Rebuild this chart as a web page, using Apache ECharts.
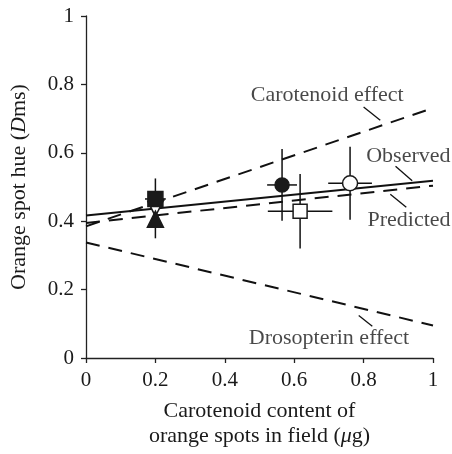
<!DOCTYPE html>
<html>
<head>
<meta charset="utf-8">
<script src="https://cdn.jsdelivr.net/npm/echarts@6/dist/echarts.min.js"></script>
<style>html,body{margin:0;padding:0;background:#fff}#c{width:452px;height:454px}</style>
</head>
<body>
<div id="c"></div>
<script>
// Axis ticks
const xTicks = [0, 0.2, 0.4, 0.6, 0.8, 1];
const yTicks = [0, 0.2, 0.4, 0.6, 0.8, 1];

// Regression / model lines (x at ends, y values)
const lineX = [0, 1];
const observed = [0.417, 0.518];
const predicted = [0.395, 0.504];
const carotenoidEffect = [0.385, 0.731];
const drosopterinEffect = [0.338, 0.095];

// Population points: carotenoid (x), hue (y), x error, y error
const pointNames = ['openTriangle', 'filledSquare', 'filledTriangle', 'filledCircle', 'openSquare', 'openCircle'];
const pointX = [0.2, 0.2, 0.2, 0.565, 0.617, 0.761];
const pointY = [0.436, 0.465, 0.406, 0.506, 0.429, 0.511];
const pointXErr = [0.0, 0.03, 0.0, 0.043, 0.093, 0.063];
const pointYErr = [0.05, 0.06, 0.056, 0.105, 0.109, 0.107];

// Annotations
const labelText = ['Carotenoid effect', 'Observed', 'Predicted', 'Drosopterin effect'];
const labelAt = [[0.695, 0.767], [0.929, 0.591], [0.931, 0.403], [0.700, 0.058]];
const leaderFrom = [[0.800, 0.734], [0.892, 0.561], [0.877, 0.479], [0.786, 0.124]];
const leaderTo = [[0.848, 0.695], [0.940, 0.518], [0.923, 0.441], [0.825, 0.093]];

const FONT = 'Liberation Serif';
const TXT = '#1a1a1a';
const chart = echarts.init(document.getElementById('c'), null, {renderer: 'canvas'});

const lineSeries = (vals, dashed) => ({
  type: 'line',
  data: lineX.map((x, i) => [x, vals[i]]),
  symbol: 'none',
  lineStyle: {color: '#111', width: 2, type: dashed ? [14, 9] : 'solid'},
  z: 3,
  silent: true
});

const markerStyles = {
  filledSquare: {symbol: 'rect', size: 15, color: '#1a1a1a', rotate: 0},
  openTriangle: {symbol: 'triangle', size: 15, color: '#fff', rotate: 180},
  filledTriangle: {symbol: 'triangle', size: 16, color: '#1a1a1a', rotate: 0},
  filledCircle: {symbol: 'circle', size: 14, color: '#1a1a1a', rotate: 0},
  openSquare: {symbol: 'rect', size: 14, color: '#fff', rotate: 0},
  openCircle: {symbol: 'circle', size: 15, color: '#fff', rotate: 0}
};

const markerSeries = pointNames.map((n, i) => {
  const s = markerStyles[n];
  return {
    type: 'scatter',
    data: [[pointX[i], pointY[i]]],
    symbol: s.symbol,
    symbolSize: s.size,
    symbolRotate: s.rotate,
    itemStyle: {color: s.color, borderColor: '#1a1a1a', borderWidth: 1.5, opacity: 1},
    z: 10 + i,
    silent: true
  };
});

const option = {
  animation: false,
  backgroundColor: '#fff',
  grid: {left: 85, right: 19, top: 16, bottom: 91, containLabel: false},
  xAxis: {
    type: 'value', min: 0, max: 1, interval: 0.2,
    axisLine: {show: true, onZero: false, lineStyle: {color: '#222', width: 1.3}},
    axisTick: {show: true, inside: false, length: 5, lineStyle: {color: '#222', width: 1.3}},
    splitLine: {show: false},
    axisLabel: {color: TXT, fontFamily: FONT, fontSize: 21, margin: 12,
      formatter: v => String(+v.toFixed(1))},
    name: '{n|Carotenoid content of}\n{n|orange spots in field (}{i|μ}{n|g)}',
    nameLocation: 'middle', nameGap: 41,
    nameTextStyle: {color: TXT, fontFamily: FONT, fontSize: 22, lineHeight: 25,
      rich: {n: {fontFamily: FONT, fontSize: 22, color: TXT},
             i: {fontFamily: FONT, fontSize: 22, fontStyle: 'italic', color: TXT}}}
  },
  yAxis: {
    type: 'value', min: 0, max: 1, interval: 0.2,
    axisLine: {show: true, onZero: false, lineStyle: {color: '#222', width: 1.3}},
    axisTick: {show: true, inside: false, length: 5, lineStyle: {color: '#222', width: 1.3}},
    splitLine: {show: false},
    axisLabel: {color: TXT, fontFamily: FONT, fontSize: 21, margin: 12,
      formatter: v => String(+v.toFixed(1))},
    name: '{n|Orange spot hue (}{i|D}{n|ms)}',
    nameLocation: 'middle', nameGap: 56, nameRotate: 90,
    nameTextStyle: {color: TXT, fontFamily: FONT, fontSize: 22,
      rich: {n: {fontFamily: FONT, fontSize: 22, color: TXT},
             i: {fontFamily: FONT, fontSize: 22, fontStyle: 'italic', color: TXT}}}
  },
  series: [
    lineSeries(carotenoidEffect, true),
    lineSeries(predicted, true),
    lineSeries(drosopterinEffect, true),
    lineSeries(observed, false),
    // leader lines
    ...leaderFrom.map((p, i) => ({
      type: 'line', data: [p, leaderTo[i]], symbol: 'none',
      lineStyle: {color: '#111', width: 1.3}, z: 3, silent: true
    })),
    // annotation labels
    {
      type: 'scatter', symbolSize: 0, silent: true, z: 20,
      data: labelText.map((t, i) => ({value: labelAt[i], name: t})),
      label: {show: true, position: 'inside', formatter: p => p.name,
        fontFamily: FONT, fontSize: 22, color: TXT}
    },
    // error bars
    {
      type: 'custom', z: 5, silent: true,
      data: pointX.map((x, i) => [x, pointY[i], pointXErr[i], pointYErr[i]]),
      encode: {x: 0, y: 1},
      renderItem: (params, api) => {
        const x = api.value(0), y = api.value(1), ex = api.value(2), ey = api.value(3);
        const l = api.coord([x - ex, y]), r = api.coord([x + ex, y]);
        const t = api.coord([x, y + ey]), b = api.coord([x, y - ey]);
        const st = {stroke: '#111', lineWidth: 1.5};
        const children = [{type: 'line', shape: {x1: t[0], y1: t[1], x2: b[0], y2: b[1]}, style: st}];
        if (ex > 0) children.push({type: 'line', shape: {x1: l[0], y1: l[1], x2: r[0], y2: r[1]}, style: st});
        return {type: 'group', children};
      }
    },
    ...markerSeries
  ]
};
chart.setOption(option);
</script>
</body>
</html>
